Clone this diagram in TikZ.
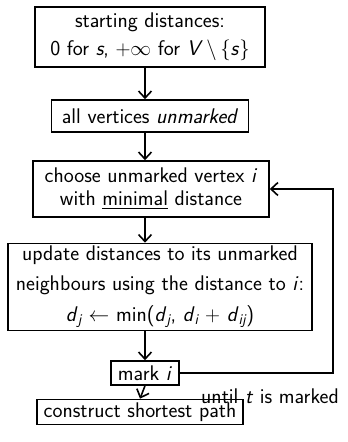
\documentclass[tikz,border=0pt]{standalone}
\usepackage{amsmath,amssymb}
\usetikzlibrary{positioning}
\usetikzlibrary{arrows.meta}
\newcommand{\mv}[1]{\textit{#1}}
\tikzset{stepbox/.style = {draw, line width=1.6pt, inner sep=0pt, align=center,
                           font=\fontsize{21.2}{23}\selectfont\sffamily}}
\tikzset{arr/.style = {line width=1.6pt, -{Straight Barb[length=7pt,width=13pt,line width=1.6pt]}}}
\begin{document}
\begin{tikzpicture}[x=1pt,y=-1pt]
  \useasboundingbox (0,0) rectangle (348,442);
  \node[stepbox, minimum width=230, minimum height=60] (start) at (150,37)
    {starting distances:\\[5pt] 0 for \mv{s}, $+\infty$ for \mv{V}\,$\setminus$\,$\{$\mv{s}$\}$};
  \node[stepbox, minimum width=197, minimum height=32] (unmarked) at (150,116)
    {all vertices \textit{unmarked}};
  \node[stepbox, minimum width=236, minimum height=56] (choose) at (151,189)
    {choose unmarked vertex \mv{i}\\ with \underline{minimal} distance};
  \node[stepbox, minimum width=304, minimum height=87] (update) at (160,287)
    {update distances to its unmarked\\[7pt] neighbours using the distance to \mv{i}:\\[8pt]
     \mv{d}$_{\mv{j}}$ $\leftarrow$ min(\mv{d}$_{\mv{j}}$, \mv{d}$_{\mv{i}}$ $+$ \mv{d}$_{\mv{ij}}$)};
  \node[stepbox, minimum width=68, minimum height=24] (mark) at (145,373)
    {mark \mv{i}};
  \node[stepbox, minimum width=206, minimum height=25] (path) at (140,412)
    {construct shortest path};
  % main chain
  \draw[arr] (start.south -| mark) -- (unmarked.north -| mark);
  \draw[arr] (unmarked.south -| mark) -- (choose.north -| mark);
  \draw[arr] (choose.south -| mark) -- (update.north -| mark);
  \draw[arr] (update.south -| mark) -- (mark.north);
  \draw[arr] (mark.south) -- (path.north);
  % loop back
  \coordinate (corner) at (333,373);
  \draw[arr] (mark.east) -- (corner) |- (choose.east);
  \node[font=\fontsize{21.2}{23}\selectfont\sffamily] (until) at (270,396) {until \mv{t} is marked};
\end{tikzpicture}
\end{document}
